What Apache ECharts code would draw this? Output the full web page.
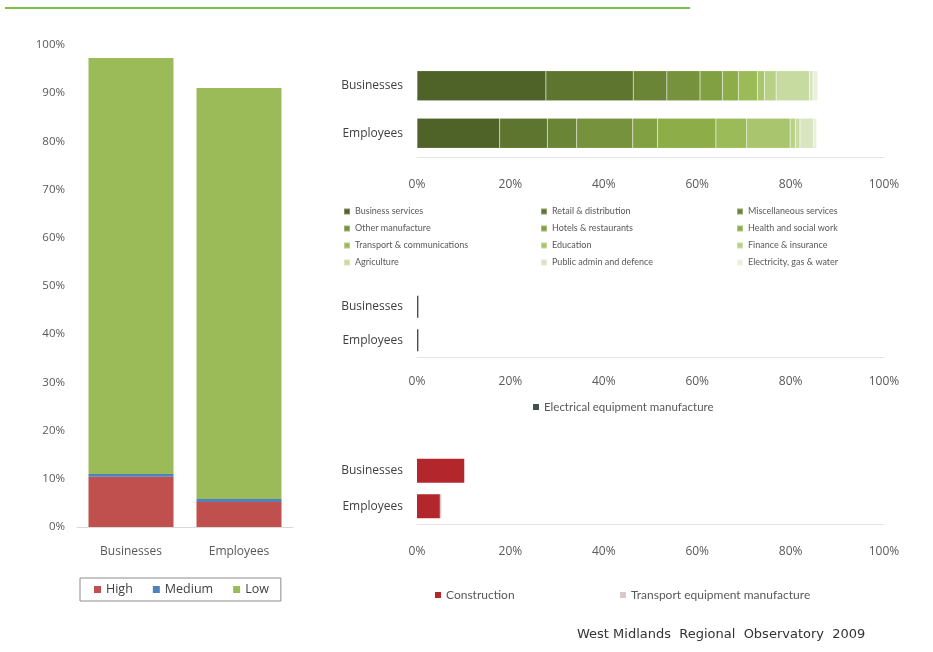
<!DOCTYPE html>
<html>
<head>
<meta charset="utf-8">
<script src="https://cdn.jsdelivr.net/npm/echarts@6/dist/echarts.min.js"></script>
<style>
html,body{margin:0;padding:0;background:#fff;}
#c{width:933px;height:652px;}
</style>
</head>
<body>
<div id="c"></div>
<script>
// ---- data ----
const categories = ['Businesses', 'Employees'];

const riskLevels = ['High', 'Medium', 'Low'];
const riskBusinesses = [10.4, 0.6, 86.3];
const riskEmployees = [5.2, 0.6, 85.3];

const lowSectors = ['Business services', 'Retail & distribution', 'Miscellaneous services',
  'Other manufacture', 'Hotels & restaurants', 'Health and social work',
  'Transport & communications', 'Education', 'Finance & insurance',
  'Agriculture', 'Public admin and defence', 'Electricity, gas & water'];
const lowBusinesses = [27.6, 18.7, 7.2, 7.1, 4.8, 3.4, 4.1, 1.5, 2.5, 7.1, 0.8, 1.0];
const lowEmployees = [17.7, 10.2, 6.3, 12.0, 5.3, 12.5, 6.6, 9.3, 1.1, 1.0, 2.9, 0.7];

const mediumSectors = ['Electrical equipment manufacture'];
const mediumBusinesses = [0.3];
const mediumEmployees = [0.3];

const highSectors = ['Construction', 'Transport equipment manufacture'];
const highBusinesses = [10.1, 0.2];
const highEmployees = [4.9, 0.3];

// ---- styles ----
const riskColors = ['#c0504d', '#4f81bd', '#9bbb59'];
const lowColors = ['#4f6228', '#5e752f', '#6a8535', '#76923c', '#80a041', '#8cad48',
  '#9bbb59', '#a9c66f', '#b8d186', '#c7dba0', '#d8e5c0', '#e8f0dc'];
const mediumColors = ['#44524f'];
const highColors = ['#b3262c', '#dcc8c8'];

const FONT = 'Open Sans';
const LFONT = 'Lato';
const txt = '#595959';

const chart = echarts.init(document.getElementById('c'), null, {renderer: 'canvas'});

function hAxisX(gi) {
  return {
    type: 'value', gridIndex: gi, min: 0, max: 100, interval: 20,
    axisLabel: {formatter: '{value}%', color: txt, fontFamily: FONT, fontSize: 12, margin: gi === 2 ? 19 : 22},
    axisLine: {show: true, lineStyle: {color: '#e4e4e4'}},
    axisTick: {show: false},
    splitLine: {show: false}
  };
}
function hAxisY(gi) {
  return {
    type: 'category', gridIndex: gi, data: categories, inverse: true,
    axisLabel: {color: '#404040', fontFamily: FONT, fontSize: 12, margin: 14},
    axisLine: {show: false}, axisTick: {show: false}
  };
}

const series = [];
riskLevels.forEach((n, i) => {
  series.push({
    name: n, type: 'bar', stack: 'risk', xAxisIndex: 0, yAxisIndex: 0,
    barWidth: 85, itemStyle: {color: riskColors[i]},
    data: [riskBusinesses[i], riskEmployees[i]]
  });
});
lowSectors.forEach((n, i) => {
  series.push({
    name: n, type: 'bar', stack: 'low', xAxisIndex: 1, yAxisIndex: 1,
    barWidth: 30, itemStyle: {color: lowColors[i], borderColor: 'rgba(255,255,255,0.3)', borderWidth: 0.5},
    data: [lowBusinesses[i], lowEmployees[i]]
  });
});
mediumSectors.forEach((n, i) => {
  series.push({
    name: n, type: 'bar', stack: 'med', xAxisIndex: 2, yAxisIndex: 2,
    barWidth: 22, itemStyle: {color: mediumColors[i]},
    data: [mediumBusinesses[i], mediumEmployees[i]]
  });
});
highSectors.forEach((n, i) => {
  series.push({
    name: n, type: 'bar', stack: 'high', xAxisIndex: 3, yAxisIndex: 3,
    barWidth: 24, itemStyle: {color: highColors[i]},
    data: [highBusinesses[i], highEmployees[i]]
  });
});

const legendBase = {
  icon: 'rect', itemWidth: 6, itemHeight: 6, selectedMode: false,
  textStyle: {color: txt, fontFamily: LFONT, fontSize: 9}
};

const option = {
  backgroundColor: '#fff',
  animation: false,
  grid: [
    {left: 77, top: 45, width: 216, height: 482},
    {left: 417, top: 62, width: 467, height: 95},
    {left: 417, top: 290, width: 467, height: 67},
    {left: 417, top: 453, width: 467, height: 71}
  ],
  xAxis: [
    {
      type: 'category', gridIndex: 0, data: categories,
      axisLabel: {color: txt, fontFamily: FONT, fontSize: 12, margin: 19},
      axisLine: {lineStyle: {color: '#d9d9d9'}}, axisTick: {show: false}
    },
    hAxisX(1), hAxisX(2), hAxisX(3)
  ],
  yAxis: [
    {
      type: 'value', gridIndex: 0, min: 0, max: 100, interval: 10,
      axisLabel: {formatter: '{value}%', color: txt, fontFamily: FONT, fontSize: 11.5, margin: 12},
      axisLine: {show: false}, axisTick: {show: false}, splitLine: {show: false}
    },
    hAxisY(1), hAxisY(2), hAxisY(3)
  ],
  legend: [
    Object.assign({}, legendBase, {
      data: riskLevels, left: 80, top: 578, width: 202, height: 24,
      itemWidth: 7, itemHeight: 7, itemGap: 20,
      padding: [5, 12, 5, 14],
      borderColor: '#8c8c8c', borderWidth: 1,
      textStyle: {color: '#404040', fontFamily: FONT, fontSize: 12.5}
    }),
    Object.assign({}, legendBase, {
      data: [lowSectors[0], lowSectors[3], lowSectors[6], lowSectors[9]],
      orient: 'vertical', left: 338, top: 202, itemGap: 8
    }),
    Object.assign({}, legendBase, {
      data: [lowSectors[1], lowSectors[4], lowSectors[7], lowSectors[10]],
      orient: 'vertical', left: 535, top: 202, itemGap: 8
    }),
    Object.assign({}, legendBase, {
      data: [lowSectors[2], lowSectors[5], lowSectors[8], lowSectors[11]],
      orient: 'vertical', left: 731, top: 202, itemGap: 8
    }),
    Object.assign({}, legendBase, {
      data: mediumSectors, left: 528, top: 396,
      textStyle: {color: txt, fontFamily: LFONT, fontSize: 11.5}
    }),
    Object.assign({}, legendBase, {
      data: [highSectors[0]], left: 430, top: 584,
      textStyle: {color: txt, fontFamily: LFONT, fontSize: 12}
    }),
    Object.assign({}, legendBase, {
      data: [highSectors[1]], left: 615, top: 584,
      textStyle: {color: txt, fontFamily: LFONT, fontSize: 12}
    })
  ],
  graphic: [
    {
      type: 'line', shape: {x1: 5, y1: 8, x2: 690, y2: 8},
      style: {stroke: '#7cc242', lineWidth: 2}
    },
    {
      type: 'text', left: 577, top: 628,
      style: {text: 'West Midlands  Regional  Observatory  2009', fill: '#333', font: '13px "DejaVu Sans"'}
    }
  ],
  series: series
};
chart.setOption(option);
</script>
</body>
</html>
